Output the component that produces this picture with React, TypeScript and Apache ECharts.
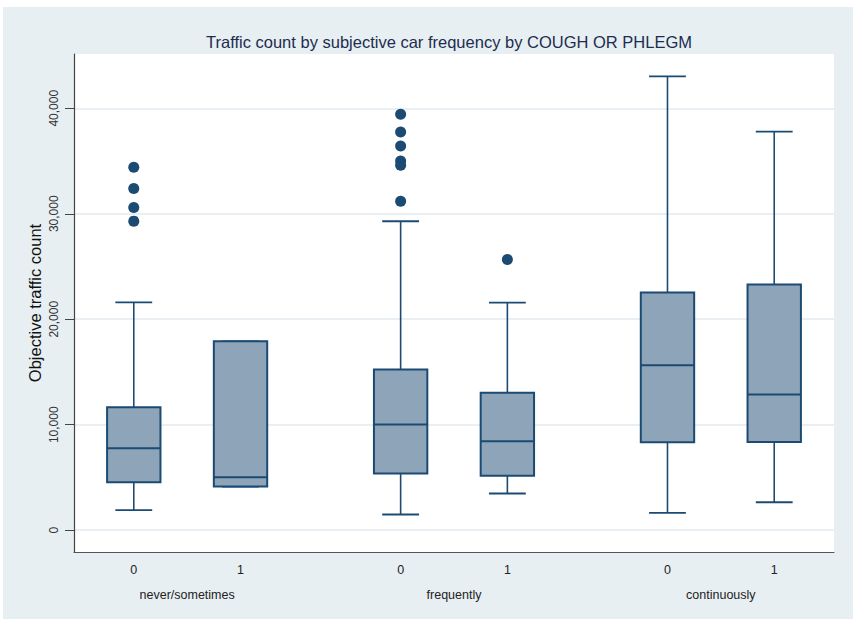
import React, { useEffect, useRef } from "react";
import * as echarts from "echarts";

// Box positions on the x scale: two boxes per frequency group, with a wider gap between groups
const positions = [0, 1, 2.5, 3.5, 5, 6];
const xTickLabels = ["0", "1", "0", "1", "0", "1"];
const groupNames = ["never/sometimes", "frequently", "continuously"];
const groupCenters = [0.5, 3, 5.5];

// Five-number summaries of the traffic count per box
const lowerWhisker = [1900, 4140, 1490, 3480, 1640, 2650];
const q1 = [4550, 4140, 5370, 5150, 8340, 8370];
const median = [7770, 5020, 10020, 8440, 15640, 12860];
const q3 = [11660, 17910, 15230, 13020, 22530, 23290];
const upperWhisker = [21600, 17910, 29290, 21580, 43030, 37790];

// Outside values: [position, count]
const outliers: [number, number][] = [
  [0, 34400],
  [0, 32400],
  [0, 30600],
  [0, 29300],
  [2.5, 39430],
  [2.5, 37760],
  [2.5, 36430],
  [2.5, 35000],
  [2.5, 34600],
  [2.5, 31190],
  [3.5, 25660],
];

const yTicks = [0, 10000, 20000, 30000, 40000];

const NAVY = "#1b4a72";
const BOX_FILL = "#8ea5b9";
const FONT = "'Liberation Sans', Arial, Helvetica, sans-serif";

function labelFor(values: number[], labels: string[], v: number) {
  const i = values.findIndex((p) => Math.abs(p - v) < 1e-6);
  return i >= 0 ? labels[i] : "";
}

export default function App() {
  const ref = useRef<HTMLDivElement>(null);

  useEffect(() => {
    if (!ref.current) return;
    const chart = echarts.init(ref.current, undefined, { renderer: "svg" });

    const boxData = positions.map((p, i) => [
      p,
      lowerWhisker[i],
      q1[i],
      median[i],
      q3[i],
      upperWhisker[i],
    ]);

    const option: any = {
      animation: false,
      backgroundColor: "#e8eff2",
      title: {
        text: "Traffic count by subjective car frequency by COUGH OR PHLEGM",
        left: 446,
        top: 26,
        padding: 0,
        textAlign: "center",
        textStyle: {
          fontFamily: FONT,
          fontSize: 16.5,
          fontWeight: "normal",
          color: "#1c2d4f",
        },
      },
      grid: {
        left: 71,
        top: 47,
        width: 760,
        height: 498,
        show: true,
        backgroundColor: "#ffffff",
        borderWidth: 0,
      },
      xAxis: [
        {
          type: "value",
          min: -0.56,
          max: 6.56,
          axisLine: { show: true, onZero: false, lineStyle: { color: "#555", width: 1.2 } },
          axisTick: { show: false },
          splitLine: { show: false },
          axisLabel: {
            customValues: positions,
            formatter: (v: number) => labelFor(positions, xTickLabels, v),
            margin: 11,
            fontFamily: FONT,
            fontSize: 12.5,
            color: "#222",
          },
        },
        {
          type: "value",
          position: "bottom",
          min: -0.56,
          max: 6.56,
          axisLine: { show: false },
          axisTick: { show: false },
          splitLine: { show: false },
          axisLabel: {
            customValues: groupCenters,
            formatter: (v: number) => labelFor(groupCenters, groupNames, v),
            margin: 36,
            fontFamily: FONT,
            fontSize: 12.5,
            color: "#222",
          },
        },
      ],
      yAxis: {
        type: "value",
        min: -2067,
        max: 45145,
        name: "Objective traffic count",
        nameLocation: "middle",
        nameGap: 31,
        nameMoveOverlap: false,
        nameRotate: 90,
        nameTextStyle: { fontFamily: FONT, fontSize: 16.5, color: "#111" },
        axisLine: { show: true, onZero: false, lineStyle: { color: "#444", width: 1.2 } },
        axisTick: {
          show: true,
          customValues: yTicks,
          length: 9,
          lineStyle: { color: "#444", width: 1 },
        },
        axisLabel: {
          customValues: yTicks,
          rotate: 90,
          margin: 14,
          fontFamily: FONT,
          fontSize: 12,
          color: "#333",
          formatter: (v: number) => v.toLocaleString("en-US"),
        },
        splitLine: { show: true, lineStyle: { color: "#e9eff2", width: 2 } },
      },
      series: [
        {
          type: "custom",
          z: 3,
          data: boxData,
          encode: { x: 0, y: [1, 2, 3, 4, 5] },
          renderItem: (params: any, api: any) => {
            const x = api.value(0);
            const lo = api.coord([x, api.value(1)]);
            const b1 = api.coord([x, api.value(2)]);
            const md = api.coord([x, api.value(3)]);
            const b3 = api.coord([x, api.value(4)]);
            const hi = api.coord([x, api.value(5)]);
            const cx = lo[0];
            const boxW = api.size([0.5, 0])[0];
            const capW = api.size([0.345, 0])[0];
            const line = (x1: number, y1: number, x2: number, y2: number, w: number) => ({
              type: "line",
              shape: { x1, y1, x2, y2 },
              style: { stroke: NAVY, lineWidth: w },
            });
            return {
              type: "group",
              children: [
                line(cx, b3[1], cx, hi[1], 1.6),
                line(cx, b1[1], cx, lo[1], 1.6),
                line(cx - capW / 2, hi[1], cx + capW / 2, hi[1], 1.8),
                line(cx - capW / 2, lo[1], cx + capW / 2, lo[1], 1.8),
                {
                  type: "rect",
                  shape: { x: cx - boxW / 2, y: b3[1], width: boxW, height: b1[1] - b3[1] },
                  style: { fill: BOX_FILL, stroke: NAVY, lineWidth: 2 },
                },
                line(cx - boxW / 2, md[1], cx + boxW / 2, md[1], 2),
              ],
            };
          },
        },
        {
          type: "scatter",
          z: 3,
          data: outliers,
          symbol: "circle",
          symbolSize: 11,
          itemStyle: { color: NAVY, opacity: 1 },
        },
      ],
    };

    chart.setOption(option);
    return () => chart.dispose();
  }, []);

  return (
    <div
      ref={ref}
      style={{ position: "absolute", left: 3, top: 7, width: 850, height: 612 }}
    />
  );
}
